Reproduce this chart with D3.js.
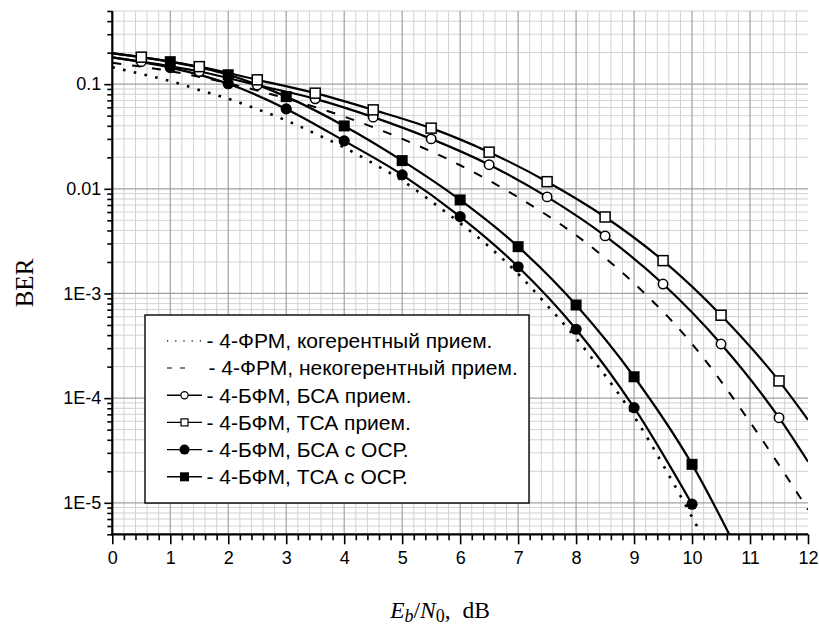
<!DOCTYPE html>
<html><head><meta charset="utf-8">
<script src="https://cdn.jsdelivr.net/npm/d3@7"></script>
<style>body{margin:0;background:#fff}svg{display:block}</style>
</head><body><svg id="c" width="819" height="626"></svg>
<script>
// ---------- data ----------
const xTickValues = [0,1,2,3,4,5,6,7,8,9,10,11,12];
const yTickValues = [1e-5,1e-4,1e-3,0.01,0.1];
const yTickLabels = ["1E-5","1E-4","1E-3","0.01","0.1"];

const coherentX   = [0,0.5,1,1.5,2,2.5,3,3.5,4,4.5,5,5.5,6,6.5,7,7.5,8,8.5,9,9.5,10,10.5];
const coherentBER = [0.145,0.125,0.107,0.088,0.0725,0.0577,0.045,0.0337,0.0248,0.0175,0.012,0.0076,0.0047,0.0028,0.00154,7.7e-4,3.73e-4,1.65e-4,6.7e-5,2.3e-5,7.3e-6,2.2e-6];

const noncohX   = [0,1,2,3,4,5,6,7,8,9,10,11,12];
const noncohBER = [0.160,0.133,0.102,0.073,0.049,0.030,0.0168,0.0083,0.0036,0.00125,3.3e-4,5.9e-5,8.6e-6];

const bsaRxX   = [0,0.5,1.5,2.5,3.5,4.5,5.5,6.5,7.5,8.5,9.5,10.5,11.5,12];
const bsaRxBER = [0.18,0.164,0.132,0.098,0.0724,0.0484,0.030,0.017,0.00837,0.00355,0.00123,3.29e-4,6.5e-5,2.47e-5];
const bsaRxMarkX = [0.5,1.5,2.5,3.5,4.5,5.5,6.5,7.5,8.5,9.5,10.5,11.5];

const tsaRxX   = [0,0.5,1.5,2.5,3.5,4.5,5.5,6.5,7.5,8.5,9.5,10.5,11.5,12];
const tsaRxBER = [0.198,0.181,0.147,0.110,0.082,0.0568,0.038,0.0224,0.0117,0.00538,0.00206,6.2e-4,1.46e-4,6.2e-5];
const tsaRxMarkX = [0.5,1.5,2.5,3.5,4.5,5.5,6.5,7.5,8.5,9.5,10.5,11.5];

const bsaOsrX   = [0,1,2,3,4,5,6,7,8,9,10];
const bsaOsrBER = [0.18,0.144,0.101,0.058,0.0287,0.0136,0.00542,0.0018,4.55e-4,8.1e-5,9.7e-6];
const bsaOsrMarkX = [1,2,3,4,5,6,7,8,9,10];

const tsaOsrX   = [0,1,2,3,4,5,6,7,8,9,10,11];
const tsaOsrBER = [0.197,0.164,0.123,0.076,0.0399,0.0186,0.00783,0.0028,7.76e-4,1.6e-4,2.33e-5,2.0e-6];
const tsaOsrMarkX = [1,2,3,4,5,6,7,8,9,10];

const legendLabels = [
  "- 4-ФРМ, когерентный прием.",
  "- 4-ФРМ, некогерентный прием.",
  "- 4-БФМ, БСА прием.",
  "- 4-БФМ, ТСА прием.",
  "- 4-БФМ, БСА с ОСР.",
  "- 4-БФМ, ТСА с ОСР."
];

// ---------- layout ----------
const L = 112.3, R = 808, T = 11, B = 534.3;
const svg = d3.select("#c");
const x = d3.scaleLinear().domain([0,12]).range([L,R]);
const y = d3.scaleLog().domain([5e-6,0.5]).range([B,T]);

// grid
const g = svg.append("g");
const vMinor = d3.range(1,60).map(i=>i*0.2).filter(v=>Math.abs(v-Math.round(v))>1e-6);
const vMajor = d3.range(1,12);
const hMinor = [], hMajor = [];
for (let e=-6;e<=-1;e++){
  for (let k=1;k<=9;k++){
    const v = k*Math.pow(10,e);
    if (v < 5e-6*0.999 || v > 0.5*1.001) continue;
    if (k===1) hMajor.push(v); else hMinor.push(v);
  }
}
g.selectAll(".vmi").data(vMinor).join("line").attr("x1",d=>x(d)).attr("x2",d=>x(d)).attr("y1",T).attr("y2",B).attr("stroke","#d2d2d2").attr("stroke-width",1);
g.selectAll(".hmi").data(hMinor).join("line").attr("x1",L).attr("x2",R).attr("y1",d=>y(d)).attr("y2",d=>y(d)).attr("stroke","#d2d2d2").attr("stroke-width",1);
g.selectAll(".vma").data(vMajor).join("line").attr("x1",d=>x(d)).attr("x2",d=>x(d)).attr("y1",T).attr("y2",B).attr("stroke","#a0a0a0").attr("stroke-width",1.2);
g.selectAll(".hma").data(hMajor).join("line").attr("x1",L).attr("x2",R).attr("y1",d=>y(d)).attr("y2",d=>y(d)).attr("stroke","#a0a0a0").attr("stroke-width",1.2);

// clip
svg.append("clipPath").attr("id","clip").append("rect").attr("x",L).attr("y",T).attr("width",R-L).attr("height",B-T);
const plot = svg.append("g").attr("clip-path","url(#clip)");

const line = d3.line().x(d=>x(d[0])).y(d=>y(d[1])).curve(d3.curveMonotoneX);
const zip = (xs,ys)=>xs.map((v,i)=>[v,ys[i]]);

plot.append("path").datum(zip(coherentX,coherentBER)).attr("d",line).attr("fill","none").attr("stroke","#000").attr("stroke-width",2.6).attr("stroke-dasharray","2.6,8.4");
plot.append("path").datum(zip(noncohX,noncohBER)).attr("d",line).attr("fill","none").attr("stroke","#000").attr("stroke-width",2).attr("stroke-dasharray","9,11");
[ [bsaRxX,bsaRxBER],[tsaRxX,tsaRxBER],[bsaOsrX,bsaOsrBER],[tsaOsrX,tsaOsrBER] ].forEach(([xs,ys])=>{
  plot.append("path").datum(zip(xs,ys)).attr("d",line).attr("fill","none").attr("stroke","#000").attr("stroke-width",2.2);
});

function markers(xs,ys,mx,type){
  const pts = zip(xs,ys).filter(p=>mx.includes(p[0]));
  const sel = plot.append("g");
  if (type==="oc") sel.selectAll("circle").data(pts).join("circle").attr("cx",d=>x(d[0])).attr("cy",d=>y(d[1])).attr("r",4.7).attr("fill","#fff").attr("stroke","#000").attr("stroke-width",1.5);
  if (type==="os") sel.selectAll("rect").data(pts).join("rect").attr("x",d=>x(d[0])-5).attr("y",d=>y(d[1])-5).attr("width",10).attr("height",10).attr("fill","#fff").attr("stroke","#000").attr("stroke-width",1.5);
  if (type==="fc") sel.selectAll("circle").data(pts).join("circle").attr("cx",d=>x(d[0])).attr("cy",d=>y(d[1])).attr("r",5.6).attr("fill","#000");
  if (type==="fs") sel.selectAll("rect").data(pts).join("rect").attr("x",d=>x(d[0])-5.5).attr("y",d=>y(d[1])-5.5).attr("width",11).attr("height",11).attr("fill","#000");
}
markers(bsaRxX,bsaRxBER,bsaRxMarkX,"oc");
markers(tsaRxX,tsaRxBER,tsaRxMarkX,"os");
markers(bsaOsrX,bsaOsrBER,bsaOsrMarkX,"fc");
markers(tsaOsrX,tsaOsrBER,tsaOsrMarkX,"fs");

// axes
const font = "'Liberation Sans', Arial, sans-serif";
const yMinorAxis = d3.axisLeft(y).tickValues(hMinor).tickFormat("").tickSize(5).tickSizeOuter(0);
const yMajorAxis = d3.axisLeft(y).tickValues(yTickValues).tickFormat((d,i)=>yTickLabels[i]).tickSize(8).tickSizeOuter(0).tickPadding(3);
const xMinorAxis = d3.axisBottom(x).tickValues(d3.range(0,61).map(i=>i*0.2).filter(v=>Math.abs(v-Math.round(v))>1e-6)).tickFormat("").tickSize(6).tickSizeOuter(0);
const xMajorAxis = d3.axisBottom(x).tickValues(xTickValues).tickFormat(d3.format("d")).tickSize(10).tickSizeOuter(0).tickPadding(7);

function styleAxis(sel){
  sel.select(".domain").remove();
  sel.selectAll(".tick line").attr("stroke","#000").attr("stroke-width",1.6);
  sel.selectAll("text").attr("font-family",font).attr("font-size",18).attr("fill","#000");
}
svg.append("g").attr("transform",`translate(${L},0)`).call(yMinorAxis).call(styleAxis);
svg.append("g").attr("transform",`translate(${L},0)`).call(yMajorAxis).call(styleAxis);
svg.append("g").attr("transform",`translate(0,${B})`).call(xMinorAxis).call(styleAxis);
svg.append("g").attr("transform",`translate(0,${B})`).call(xMajorAxis).call(styleAxis);
svg.append("line").attr("x1",L).attr("x2",L).attr("y1",T).attr("y2",B+1).attr("stroke","#000").attr("stroke-width",2.2);
svg.append("line").attr("x1",L-1).attr("x2",R).attr("y1",B).attr("y2",B).attr("stroke","#000").attr("stroke-width",2.2);

// legend
const lg = svg.append("g");
lg.append("rect").attr("x",145).attr("y",315).attr("width",384).attr("height",188).attr("fill","#fff").attr("stroke","#000").attr("stroke-width",1.4);
const rowY = legendLabels.map((d,i)=>340.8+i*27.2);
const sx1 = 167, sx2 = 202, sxm = 184.5;
legendLabels.forEach((lab,i)=>{
  const yy = rowY[i];
  if (i===0) lg.append("line").attr("x1",sx1).attr("x2",sx2).attr("y1",yy).attr("y2",yy).attr("stroke","#000").attr("stroke-width",1.2).attr("stroke-dasharray","1.2,7");
  else if (i===1) lg.append("line").attr("x1",sx1).attr("x2",sx2-10).attr("y1",yy).attr("y2",yy).attr("stroke","#000").attr("stroke-width",1.2).attr("stroke-dasharray","5,8");
  else lg.append("line").attr("x1",sx1).attr("x2",sx2).attr("y1",yy).attr("y2",yy).attr("stroke","#000").attr("stroke-width",1.4);
  if (i===2) lg.append("circle").attr("cx",sxm).attr("cy",yy).attr("r",3.6).attr("fill","#fff").attr("stroke","#000").attr("stroke-width",1.2);
  if (i===3) lg.append("rect").attr("x",sxm-3.5).attr("y",yy-3.5).attr("width",7).attr("height",7).attr("fill","#fff").attr("stroke","#000").attr("stroke-width",1.2);
  if (i===4) lg.append("circle").attr("cx",sxm).attr("cy",yy).attr("r",5).attr("fill","#000");
  if (i===5) lg.append("rect").attr("x",sxm-4.5).attr("y",yy-4.5).attr("width",9).attr("height",9).attr("fill","#000");
  lg.append("text").attr("x", i===1 ? 208.5 : 206.5).attr("y",yy+7.3).attr("font-family",font).attr("font-size",21).attr("fill","#000").text(lab);
});

// titles
const serif = "'Liberation Serif','Times New Roman',serif";
svg.append("text").attr("transform","translate(33,283) rotate(-90)").attr("text-anchor","middle").attr("font-family",serif).attr("font-size",25).attr("fill","#000").text("BER");
const xt = svg.append("text").attr("x",440).attr("y",618).attr("text-anchor","middle").attr("font-family",serif).attr("font-size",23.5).attr("fill","#000");
xt.append("tspan").attr("font-style","italic").text("E");
xt.append("tspan").attr("font-style","italic").attr("font-size",18).attr("dy",4).text("b");
xt.append("tspan").attr("dy",-4).text("/");
xt.append("tspan").attr("font-style","italic").text("N");
xt.append("tspan").attr("font-size",18).attr("dy",4).text("0");
xt.append("tspan").attr("dy",-4).text(",\u00a0\u00a0dB");
</script></body></html>
